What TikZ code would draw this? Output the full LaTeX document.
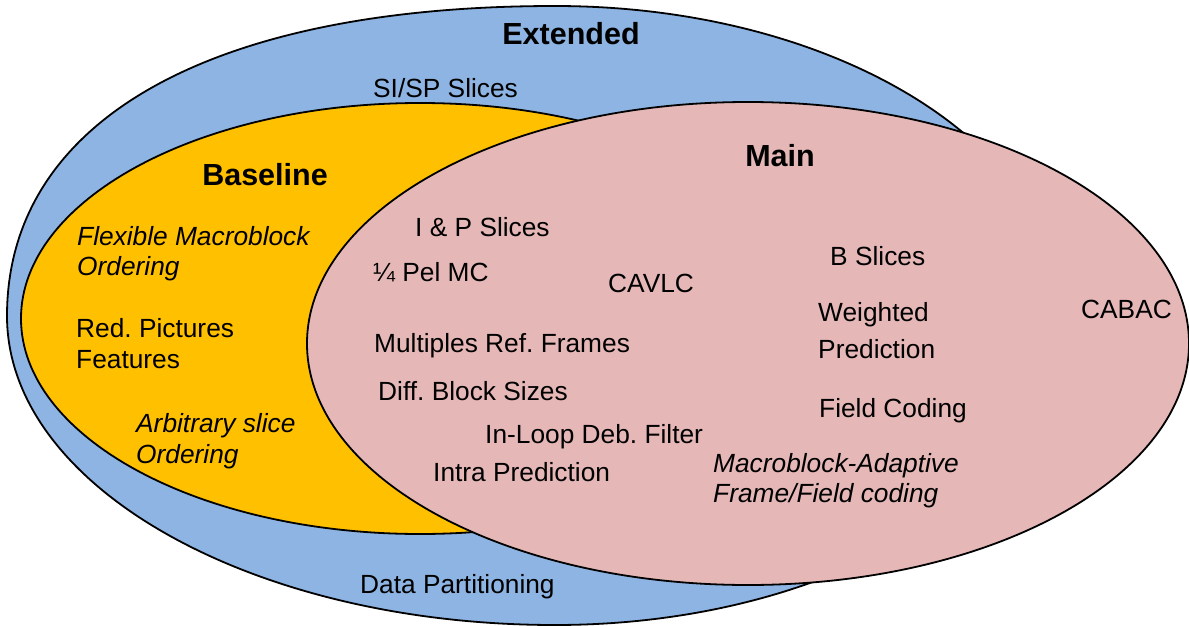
\documentclass[tikz,border=0pt]{standalone}
\usepackage{fontspec}
\setmainfont{Liberation Sans}
\definecolor{extblue}{RGB}{141,180,226}
\definecolor{baseorange}{RGB}{255,192,0}
\definecolor{mainpink}{RGB}{229,184,183}
% two stacked lines whose baseline is the first line's baseline
\newcommand{\stackedtext}[3]{\vtop{\baselineskip=#3pt\hbox{#1}\hbox{#2}}}
\frenchspacing
\begin{document}
\begin{tikzpicture}[x=1pt,y=-1pt,
  region/.style={draw=black,line width=1.8pt},
  lbl/.style={anchor=base west,inner sep=0pt,font=\fontsize{26.3}{31}\selectfont},
  ilbl/.style={lbl,font=\fontsize{26.3}{31}\selectfont\itshape},
  settitle/.style={anchor=base,inner sep=0pt,font=\fontsize{30.5}{36}\selectfont\bfseries}]
\useasboundingbox (0,0) rectangle (1189,626);

% Extended profile (slightly egg-shaped outline)
\draw[region,fill=extblue]
  (7,316) .. controls (7,120.7) and (209.8,6) .. (555,6)
          .. controls (834.5,6) and (1061,144.8) .. (1061,316)
          .. controls (1061,486.7) and (834.5,625) .. (555,625)
          .. controls (252.3,625) and (7,486.7) .. (7,316) -- cycle;

% Baseline profile
\draw[region,fill=baseorange] (420,318.5) ellipse [x radius=399pt, y radius=215.5pt];

% Main profile
\draw[region,fill=mainpink] (748,343.5) ellipse [x radius=441pt, y radius=241.5pt];

% profile names
\node[settitle] (extended) at (571,45) {Extended};
\node[settitle] (baseline) at (265,185) {Baseline};
\node[settitle] (main) at (780,166) {Main};

% Extended only
\node[lbl] (sisp) at (373,97) {SI/SP Slices};
\node[lbl] (datapart) at (360,593) {Data Partitioning};

% Baseline and Extended
\node[ilbl] (fmo) at (77,245) {\stackedtext{Flexible Macroblock}{Ordering}{30}};
\node[lbl] (redpic) at (76,337) {\stackedtext{Red. Pictures}{Features}{31}};
\node[ilbl] (aso) at (136,432) {\stackedtext{Arbitrary slice}{Ordering}{31}};

% common to all profiles
\node[lbl] (ipslices) at (415,236) {I \& P Slices};
\node[lbl] (quarterpel) at (373,281) {¼ Pel MC};
\node[lbl] (cavlc) at (608,292) {CAVLC};
\node[lbl] (multiref) at (374,352) {Multiples Ref. Frames};
\node[lbl] (blocksizes) at (378,400) {Diff. Block Sizes};
\node[lbl] (deblock) at (485,443) {In-Loop Deb. Filter};
\node[lbl] (intra) at (433,481) {Intra Prediction};

% Main and Extended
\node[lbl] (bslices) at (830,265) {B Slices};
\node[lbl] (weighted) at (818,321) {\stackedtext{Weighted}{Prediction}{37}};
\node[lbl] (field) at (819,417) {Field Coding};
\node[ilbl] (mbaff) at (713,472) {\stackedtext{Macroblock-Adaptive}{Frame/Field coding}{30}};

% Main only
\node[lbl] (cabac) at (1081,318) {CABAC};
\end{tikzpicture}
\end{document}
